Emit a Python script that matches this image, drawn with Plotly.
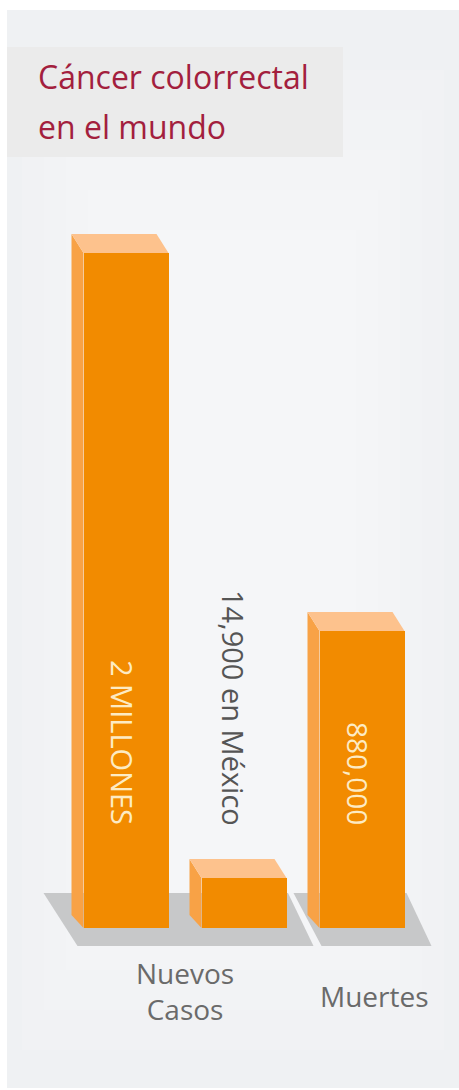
import plotly.graph_objects as go

# ---------------- data ----------------
bar_keys = ["Nuevos casos (mundo)", "Nuevos casos (México)", "Muertes (mundo)"]
bar_values = [2_000_000, 14_900, 880_000]          # real figures
# drawn heights read from the picture (the infographic exaggerates the Mexico bar)
bar_heights = [2_000_000, 148_000, 880_000]
bar_positions = [0, 1, 2]
bar_texts = ["2 MILLONES", "14,900 en México", "880,000"]
category_labels = ["Nuevos<br>Casos", "Muertes"]
category_positions = [0.5, 2]
title_lines = ["Cáncer colorrectal", "en el mundo"]

# ---------------- geometry / styling ----------------
W, H = 459, 1090
X0, SX = 126.0, 118.0           # pixel of x=0, pixels per x unit
Y0, SY = 928.0, 675.0 / 2e6     # pixel of value 0, pixels per value unit
BAR_W_PX = 85


def dx(px):
    return px / SX


def dy(px):
    return px / SY


FRONT = "#f28b00"
TOP = "#fdc28d"
SIDE = "#f8a246"
SHADOW = "#c7c8c9"
FONT = "Open Sans"

bw = dx(BAR_W_PX)
xl = [p - bw / 2 for p in bar_positions]
xr = [p + bw / 2 for p in bar_positions]

fig = go.Figure()

# front faces
fig.add_trace(go.Bar(
    x=bar_positions, y=bar_heights, width=bw,
    marker=dict(color=FRONT, line=dict(width=0)),
    hoverinfo="skip", showlegend=False,
))

# 3D faces (top and left side) derived from the bars
DEPTH_X, DEPTH_Y, SIDE_BOTTOM_Y = -12, 19, 13
for i, h in enumerate(bar_heights):
    sx = [xl[i], xl[i], xl[i] + dx(DEPTH_X), xl[i] + dx(DEPTH_X), xl[i]]
    sy = [0, h, h + dy(DEPTH_Y), dy(SIDE_BOTTOM_Y), 0]
    fig.add_trace(go.Scatter(x=sx, y=sy, fill="toself", fillcolor=SIDE, mode="lines",
                             line=dict(width=0), hoverinfo="skip", showlegend=False))
    tx = [xl[i], xr[i], xr[i] + dx(DEPTH_X), xl[i] + dx(DEPTH_X), xl[i]]
    ty = [h, h, h + dy(DEPTH_Y), h + dy(DEPTH_Y), h]
    fig.add_trace(go.Scatter(x=tx, y=ty, fill="toself", fillcolor=TOP, mode="lines",
                             line=dict(width=0), hoverinfo="skip", showlegend=False))

shapes = []
# panel background (soft lighter centre) + title box
shapes.append(dict(type="rect", xref="paper", yref="paper", layer="below",
                   x0=7 / W, x1=1, y0=1 - 1088 / H, y1=1 - 10 / H,
                   fillcolor="#eff1f3", line=dict(width=0)))
for k in range(5):
    ix, iy = 15 + 22 * k, 60 + 40 * k
    shapes.append(dict(type="rect", xref="paper", yref="paper", layer="below",
                       x0=(7 + ix) / W, x1=(W - ix) / W, y0=(iy - 20) / H, y1=1 - (10 + iy) / H,
                       fillcolor="rgba(255,255,255,0.13)", line=dict(width=0)))
shapes.append(dict(type="rect", xref="paper", yref="paper", layer="below",
                   x0=7 / W, x1=343 / W, y0=1 - 157 / H, y1=1 - 47 / H,
                   fillcolor="#ebebeb", line=dict(width=0)))

# floor shadows
ST, SB = dy(35), dy(-18)
groups = [(0, 1, -40, -6, 1.5, 27), (2, 2, -26, 2, 2, 27)]
for a, b, tl, bl, tr, br in groups:
    pts = [(xl[a] + dx(tl), ST), (xr[b] + dx(tr), ST), (xr[b] + dx(br), SB), (xl[a] + dx(bl), SB)]
    path = "M " + " L ".join(f"{px},{py}" for px, py in pts) + " Z"
    shapes.append(dict(type="path", xref="x", yref="y", layer="below", path=path,
                       fillcolor=SHADOW, line=dict(width=0)))

annotations = []
# title
for line, yc in zip(title_lines, [77, 126]):
    annotations.append(dict(text=line, xref="paper", yref="paper", x=36 / W, y=1 - yc / H,
                            xanchor="left", yanchor="middle", showarrow=False,
                            font=dict(family=FONT, size=32, color="#a31f3e")))

# vertical labels
label_y = [dy(928 - 742), dy(928 - 708), dy(928 - 773)]
label_shift = [-3, -10, -4]
label_color = ["#fdebc4", "#555555", "#fdebc4"]
label_size = [29, 29, 28]
for i, t in enumerate(bar_texts):
    annotations.append(dict(text=t, x=bar_positions[i], y=label_y[i], xref="x", yref="y",
                            xshift=label_shift[i], textangle=90, showarrow=False,
                            xanchor="center", yanchor="middle",
                            font=dict(family=FONT, size=label_size[i], color=label_color[i])))

# category labels
cat_y = [dy(928 - 991), dy(928 - 996)]
cat_shift = [0, 12]
for t, p, yy, s in zip(category_labels, category_positions, cat_y, cat_shift):
    annotations.append(dict(text=t, x=p, y=yy, xref="x", yref="y", xshift=s,
                            showarrow=False, xanchor="center", yanchor="middle",
                            font=dict(family=FONT, size=28, color="#6a6a6a")))

fig.update_layout(
    width=W, height=H, autosize=False,
    margin=dict(l=0, r=0, t=0, b=0, pad=0),
    paper_bgcolor="white", plot_bgcolor="rgba(0,0,0,0)",
    xaxis=dict(range=[(0 - X0) / SX, (W - X0) / SX], visible=False, fixedrange=True),
    yaxis=dict(range=[(Y0 - H) / SY, Y0 / SY], visible=False, fixedrange=True),
    shapes=shapes, annotations=annotations, bargap=0,
    showlegend=False,
)

fig.write_html("out.html", config={"displayModeBar": False})
